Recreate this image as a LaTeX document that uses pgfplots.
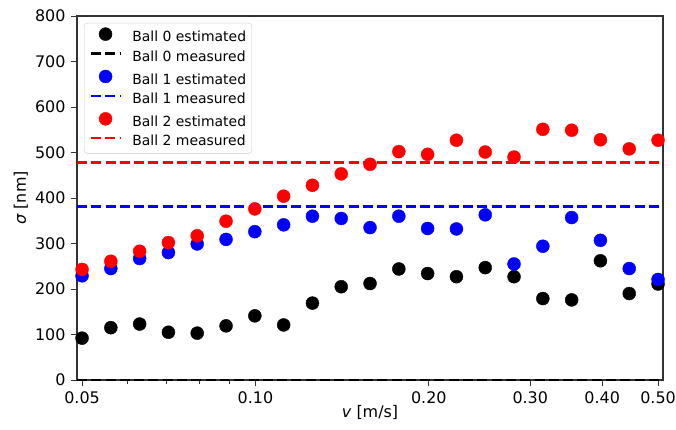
\documentclass[border=0pt]{standalone}
\usepackage{fontspec}
\setmainfont{DejaVu Sans}
\usepackage{pgfplots}
\pgfplotsset{compat=1.18}
\definecolor{mblue}{RGB}{0,0,255}
\definecolor{mred}{RGB}{255,0,0}
\begin{document}
\fontsize{16}{19}\selectfont
\begin{tikzpicture}
\path[use as bounding box] (-77bp,-50bp) rectangle (599bp,380bp);
\begin{axis}[
  at={(0,0)}, anchor=south west, scale only axis,
  width=586bp, height=364bp,
  xmode=log, xmin=0.049, xmax=0.51, ymin=0, ymax=800,
  xtick={0.05,0.1,0.2,0.3,0.4,0.5},
  xticklabels={0.05,0.10,0.20,0.30,0.40,0.50},
  minor xtick={0.06,0.07,0.08,0.09},
  ytick={0,100,200,300,400,500,600,700,800},
  tick align=outside, xtick pos=bottom, ytick pos=left,
  major tick length=6bp, minor tick length=3.5bp,
  tick style={black!80, line width=1bp},
  axis line style={black!80, line width=1.2bp},
  /pgf/number format/assume math mode=true,
  every tick label/.append style={font=\fontsize{16}{19}\selectfont},
  xlabel={\textit{v} [m/s]}, ylabel={\textit{σ} [nm]},
  xlabel style={at={(axis description cs:0.5,0)}, anchor=north, inner sep=0bp, yshift=-25bp},
  ylabel style={at={(axis description cs:0,0.5)}, anchor=center, inner sep=0bp, yshift=56bp},
  clip=false,
  legend cell align=left,
  legend style={at={(0.012,0.981)}, anchor=north west, draw=black!20, rounded corners=3bp,
    fill=white, font=\fontsize{14}{17}\selectfont,
    inner xsep=5.6bp, inner ysep=4.5bp, row sep=5.8bp,
    nodes={inner sep=0bp, text height=10.5bp, text depth=3bp},
    /tikz/every odd column/.append style={column sep=11bp}},
  mk/.style={only marks, mark=*, mark size=6.5bp, mark options={draw=none, fill=#1}, color=#1,
    legend image code/.code={\draw[##1] plot coordinates {(14.5bp,4bp)};}},
  ln/.style={color=#1, line width=2.5bp, dash pattern=on 10bp off 4.3bp,
    legend image code/.code={\draw[##1] (0bp,4bp) -- (29bp,4bp);}},
]
\addplot[mk=black] coordinates {
(0.050000,92) (0.056101,115) (0.062946,123) (0.070627,105) (0.079245,103)
(0.088914,119) (0.099763,141) (0.111936,121) (0.125594,169) (0.140919,205)
(0.158114,212) (0.177407,244) (0.199054,234) (0.223342,227) (0.250594,247)
(0.281171,227) (0.315479,179) (0.353973,176) (0.397164,262) (0.445625,190)
(0.500000,211)};
\addlegendentry{Ball 0 estimated}
\addplot[ln=black] coordinates {(0.049,0) (0.51,0)};
\addlegendentry{Ball 0 measured}
\addplot[mk=mblue] coordinates {
(0.050000,229) (0.056101,245) (0.062946,267) (0.070627,280) (0.079245,299)
(0.088914,309) (0.099763,326) (0.111936,341) (0.125594,360) (0.140919,355)
(0.158114,335) (0.177407,360) (0.199054,333) (0.223342,332) (0.250594,363)
(0.281171,255) (0.315479,294) (0.353973,357) (0.397164,307) (0.445625,245)
(0.500000,221)};
\addlegendentry{Ball 1 estimated}
\addplot[ln=mblue] coordinates {(0.049,381) (0.51,381)};
\addlegendentry{Ball 1 measured}
\addplot[mk=mred] coordinates {
(0.050000,243) (0.056101,261) (0.062946,283) (0.070627,302) (0.079245,317)
(0.088914,349) (0.099763,376) (0.111936,404) (0.125594,428) (0.140919,453)
(0.158114,474) (0.177407,502) (0.199054,496) (0.223342,527) (0.250594,501)
(0.281171,490) (0.315479,551) (0.353973,549) (0.397164,528) (0.445625,508)
(0.500000,527)};
\addlegendentry{Ball 2 estimated}
\addplot[ln=mred] coordinates {(0.049,478) (0.51,478)};
\addlegendentry{Ball 2 measured}
\end{axis}
\end{tikzpicture}
\end{document}
